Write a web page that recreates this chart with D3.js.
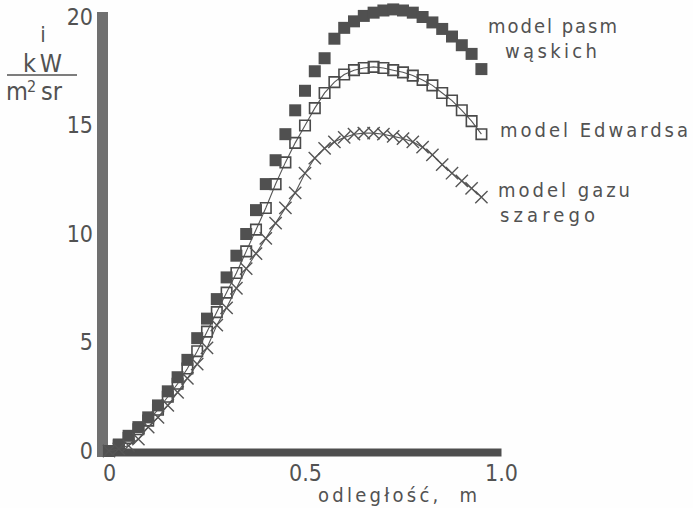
<!DOCTYPE html>
<html>
<head>
<meta charset="utf-8">
<script src="https://cdn.jsdelivr.net/npm/d3@7"></script>
<style>
  body { margin: 0; background: #fefefe; }
  text { font-family: "DejaVu Sans Condensed", "DejaVu Sans", sans-serif; fill: #525252; }
  .tick text { font-family: "Liberation Sans Narrow", "DejaVu Sans Condensed", sans-serif; }
</style>
</head>
<body>
<div id="chart"></div>
<script>
  // distances (m), every 0.025
  const xs = [0, 0.025, 0.05, 0.075, 0.1, 0.125, 0.15, 0.175, 0.2, 0.225,
    0.25, 0.275, 0.3, 0.325, 0.35, 0.375, 0.4, 0.425, 0.45, 0.475,
    0.5, 0.525, 0.55, 0.575, 0.6, 0.625, 0.65, 0.675, 0.7, 0.725,
    0.75, 0.775, 0.8, 0.825, 0.85, 0.875, 0.9, 0.925, 0.95];

  // model pasm wąskich (filled squares)
  const narrowBand = [0, 0.3, 0.7, 1.1, 1.55, 2.1, 2.75, 3.4, 4.2, 5.2,
    6.1, 7.0, 8.0, 9.0, 10.0, 11.1, 12.3, 13.4, 14.6, 15.7,
    16.6, 17.5, 18.1, 19.0, 19.5, 19.8, 20.05, 20.2, 20.3, 20.35,
    20.3, 20.2, 20.0, 19.75, 19.45, 19.1, 18.7, 18.3, 17.6];

  // model Edwardsa (open squares)
  const edwards = [0, 0.25, 0.6, 1.0, 1.4, 1.9, 2.5, 3.1, 3.8, 4.6,
    5.5, 6.4, 7.3, 8.2, 9.2, 10.2, 11.2, 12.3, 13.3, 14.2,
    15.0, 15.8, 16.5, 17.0, 17.35, 17.55, 17.65, 17.7, 17.65, 17.55,
    17.45, 17.3, 17.1, 16.85, 16.5, 16.15, 15.7, 15.2, 14.6];

  // model gazu szarego (crosses)
  const greyGas = [0, 0.1, 0.25, 0.55, 1.1, 1.55, 2.1, 2.7, 3.35, 4.0,
    4.75, 5.8, 6.6, 7.5, 8.4, 9.1, 9.8, 10.5, 11.2, 11.9,
    12.8, 13.5, 13.95, 14.25, 14.45, 14.6, 14.65, 14.65, 14.6, 14.5,
    14.4, 14.25, 14.0, 13.65, 13.2, 12.8, 12.45, 12.1, 11.7];

  const yTicks = [0, 5, 10, 15, 20];
  const xTicks = [0, 0.5, 1.0];
  const xTickLabels = ["0", "0.5", "1.0"];

  const width = 693, height = 508;

  const svg = d3.select("#chart").append("svg")
    .attr("width", width)
    .attr("height", height);

  const x = d3.scaleLinear().domain([0, 1]).range([109, 501]);
  const y = d3.scaleLinear().domain([0, 20]).range([451, 17]);

  // y axis: thick grey bar
  const yAxis = svg.append("g")
    .attr("transform", "translate(102,0)")
    .attr("font-family", null)
    .call(d3.axisLeft(y).tickValues(yTicks).tickSize(0).tickPadding(9).tickSizeOuter(0));
  yAxis.select(".domain")
    .attr("stroke", "#707070")
    .attr("stroke-width", 11)
    .attr("stroke-linecap", "square");
  yAxis.selectAll("text").attr("font-size", 23);

  // x axis: dark bar
  const xAxis = svg.append("g")
    .attr("transform", "translate(0,452)")
    .attr("font-family", null)
    .call(d3.axisBottom(x).tickValues(xTicks).tickSize(0).tickPadding(13).tickSizeOuter(0)
      .tickFormat((d, i) => xTickLabels[i]));
  xAxis.select(".domain")
    .attr("stroke", "#4e4e4e")
    .attr("stroke-width", 8);
  xAxis.selectAll("text").attr("font-size", 23);

  // axis titles
  svg.append("text").attr("x", 318).attr("y", 502)
    .attr("font-size", 20)
    .attr("textLength", 159).attr("lengthAdjust", "spacing")
    .attr("xml:space", "preserve")
    .text("odległość,  m");

  const yl = svg.append("g");
  yl.append("text").attr("x", 43).attr("y", 42).attr("text-anchor", "middle")
    .attr("font-size", 22).text("i");
  yl.append("text").attr("x", 23).attr("y", 72)
    .attr("font-size", 25).attr("textLength", 39).attr("lengthAdjust", "spacing")
    .text("kW");
  yl.append("line").attr("x1", 7).attr("x2", 77).attr("y1", 75).attr("y2", 75)
    .attr("stroke", "#525252").attr("stroke-width", 1.6);
  yl.append("text").attr("x", 6).attr("y", 100).attr("font-size", 25).text("m");
  yl.append("text").attr("x", 27).attr("y", 92).attr("font-size", 16).text("2");
  yl.append("text").attr("x", 41).attr("y", 100).attr("font-size", 25).text("sr");

  const line = d3.line().x((d, i) => x(xs[i])).y(d => y(d));

  // Edwards: open squares
  svg.append("path").datum(edwards)
    .attr("d", line).attr("fill", "none")
    .attr("stroke", "#555").attr("stroke-width", 1.1);
  const sq = d3.symbol().type(d3.symbolSquare).size(110);
  svg.selectAll(".ed").data(edwards).enter().append("path")
    .attr("transform", (d, i) => `translate(${x(xs[i])},${y(d)})`)
    .attr("d", sq)
    .attr("fill", "none").attr("stroke", "#4a4a4a").attr("stroke-width", 1.6);

  // narrow band: filled squares
  const fsq = d3.symbol().type(d3.symbolSquare).size(144);
  svg.selectAll(".nb").data(narrowBand).enter().append("path")
    .attr("transform", (d, i) => `translate(${x(xs[i])},${y(d)})`)
    .attr("d", fsq)
    .attr("fill", "#505050");

  // grey gas: crosses
  svg.append("path").datum(greyGas)
    .attr("d", line).attr("fill", "none")
    .attr("stroke", "#555").attr("stroke-width", 1.1);
  const cross = d3.symbol().type(d3.symbolTimes || d3.symbolX).size(100);
  svg.selectAll(".gx").data(greyGas).enter().append("path")
    .attr("transform", (d, i) => `translate(${x(xs[i])},${y(d)})`)
    .attr("d", cross)
    .attr("fill", "none").attr("stroke", "#555").attr("stroke-width", 1.4);

  // labels next to curves
  const labels = [
    { t: "model pasm", x: 488, y: 33, w: 129 },
    { t: "wąskich", x: 505, y: 58, w: 92 },
    { t: "model Edwardsa", x: 500, y: 137, w: 188 },
    { t: "model gazu", x: 498, y: 197, w: 132 },
    { t: "szarego", x: 500, y: 222, w: 95 }
  ];
  svg.selectAll(".lbl").data(labels).enter().append("text")
    .attr("x", d => d.x).attr("y", d => d.y)
    .attr("font-size", 20)
    .attr("textLength", d => d.w).attr("lengthAdjust", "spacing")
    .text(d => d.t);
</script>
</body>
</html>
